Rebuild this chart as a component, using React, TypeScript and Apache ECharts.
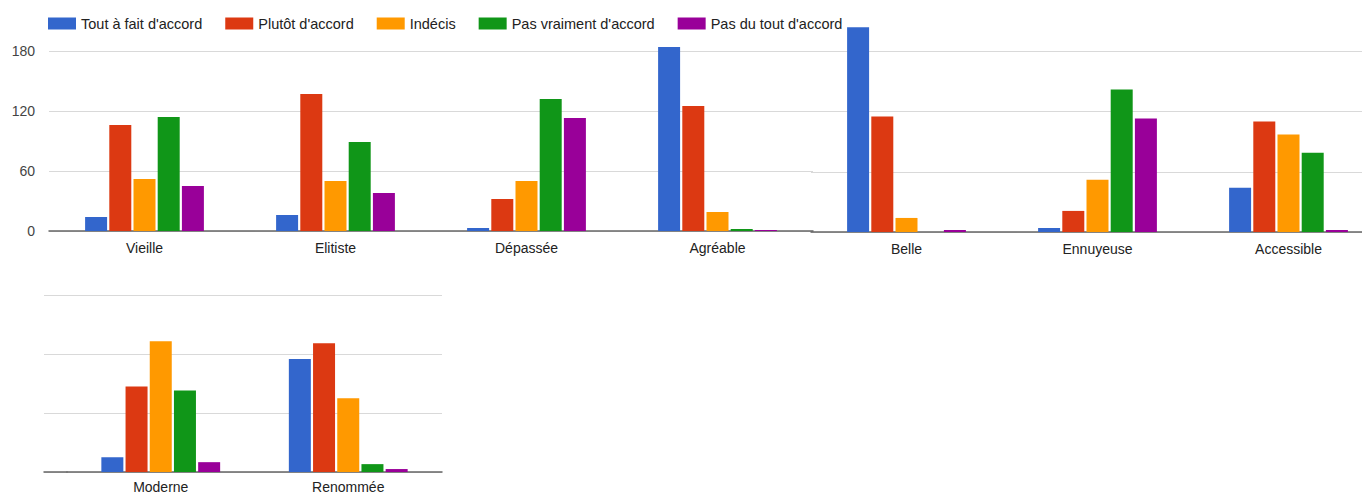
import React, { useEffect, useRef } from "react";
import * as echarts from "echarts";

const categories = ["Vieille", "Elitiste", "Dépassée", "Agréable", "Belle", "Ennuyeuse", "Accessible", "Moderne", "Renommée"];
const seriesNames = ["Tout à fait d'accord", "Plutôt d'accord", "Indécis", "Pas vraiment d'accord", "Pas du tout d'accord"];
const toutAFait = [14, 16, 3, 184, 204, 4, 44, 15, 115];
const plutot = [106, 137, 32, 125, 115, 21, 110, 87, 131];
const indecis = [52, 50, 50, 19, 14, 52, 97, 133, 75];
const pasVraiment = [114, 89, 132, 2, 0, 142, 79, 83, 8];
const pasDuTout = [45, 38, 113, 1, 2, 113, 2, 10, 3];
const yTicks = [0, 60, 120, 180];

const colors = ["#3366cc", "#dc3912", "#ff9900", "#109618", "#990099"];
const allValues = [toutAFait, plutot, indecis, pasVraiment, pasDuTout];
// panels: category index ranges
const panels = [
  { from: 0, to: 4 },
  { from: 4, to: 7 },
  { from: 7, to: 9 },
];

const FONT = "'Liberation Sans', Arial, sans-serif";

export default function App() {
  const ref = useRef<HTMLDivElement>(null);
  useEffect(() => {
    if (!ref.current) return;
    const chart = echarts.init(ref.current, undefined, { renderer: "svg" });
    const gridLine = { show: true, lineStyle: { color: "#d9d9d9", width: 1 } };
    const axisLine = { show: true, lineStyle: { color: "#666", width: 1.5 } };
    const xAxisBase = (idx: number, data: string[], showLabel: boolean, margin = 10) => ({
      type: "category",
      gridIndex: idx,
      data,
      axisTick: { show: false },
      axisLine,
      axisLabel: { show: showLabel, color: "#222", fontSize: 14, fontFamily: FONT, margin, interval: 0 },
      splitLine: { show: false },
    });
    const yAxisBase = (idx: number, max: number, showLabel: boolean) => ({
      type: "value",
      gridIndex: idx,
      min: 0,
      max,
      interval: 60,
      axisLine: { show: false },
      axisTick: { show: false },
      axisLabel: {
        show: showLabel,
        color: "#444",
        fontSize: 14,
        fontFamily: FONT,
        margin: 14,
        formatter: (v: number) => (yTicks.includes(v) ? String(v) : ""),
      },
      splitLine: gridLine,
    });

    const series: any[] = [];
    panels.forEach((p, gi) => {
      seriesNames.forEach((name, si) => {
        series.push({
          type: "bar",
          name,
          xAxisIndex: gi,
          yAxisIndex: gi,
          data: allValues[si].slice(p.from, p.to),
          barWidth: 22,
          barGap: "10%",
          itemStyle: { color: colors[si] },
        });
      });
    });

    chart.setOption({
      animation: false,
      color: colors,
      legend: {
        data: seriesNames,
        left: 48,
        top: 16,
        padding: 0,
        itemWidth: 28,
        itemHeight: 12,
        itemGap: 23,
        icon: "rect",
        textStyle: { color: "#222", fontSize: 14.5, fontFamily: FONT },
      },
      grid: [
        { left: 49, width: 764, top: -9, height: 240, outerBoundsMode: "none" },
        { left: 811, width: 573, top: -9, height: 241, outerBoundsMode: "none" },
        { left: 67, width: 375, top: 295, bottom: 23, outerBoundsMode: "none" },
        { left: 44, width: 23, top: 295, bottom: 23, outerBoundsMode: "none" },
      ],
      xAxis: [
        xAxisBase(0, categories.slice(0, 4), true),
        xAxisBase(1, categories.slice(4, 7), true),
        xAxisBase(2, categories.slice(7, 9), true, 8),
        xAxisBase(3, [""], false),
      ],
      yAxis: [
        yAxisBase(0, 240, true),
        yAxisBase(1, 240, false),
        yAxisBase(2, 180, false),
        yAxisBase(3, 180, false),
      ],
      series,
    });
    return () => chart.dispose();
  }, []);
  return (
    <div
      ref={ref}
      style={{ position: "fixed", left: 0, top: 0, width: 1362, height: 495, background: "#fff" }}
    />
  );
}
